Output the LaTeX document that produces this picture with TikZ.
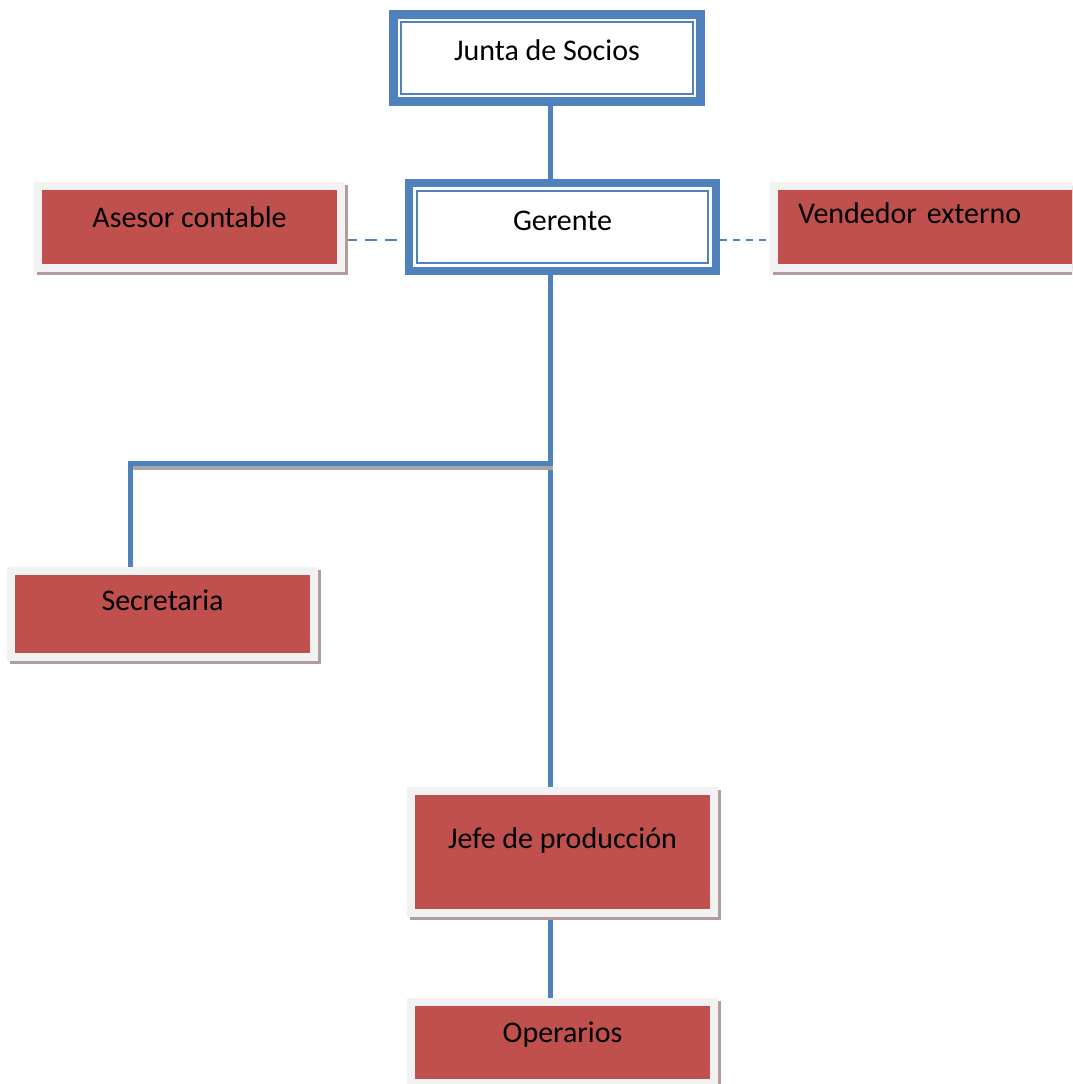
\documentclass[tikz,border=0pt]{standalone}
\usepackage{fontspec}
\setmainfont{Carlito}
\pgfdeclarelayer{background}
\pgfsetlayers{background,main}
\definecolor{cblue}{HTML}{4F81BD}
\definecolor{cred}{HTML}{C0504D}
\definecolor{cgray}{HTML}{F2F2F2}
\definecolor{cshadow}{HTML}{B39C9C}
\definecolor{cline}{HTML}{A6A6A6}
\tikzset{
  bluebox/.style={draw=cblue, line width=8pt, fill=white, inner sep=0pt, minimum width=307pt,
    font=\fontsize{30}{36}\selectfont},
  redbox/.style={draw=cgray, line width=8pt, fill=cred, inner sep=0pt, minimum width=303pt,
    font=\fontsize{30}{36}\selectfont,
    preaction={draw=cshadow, fill=cshadow, line width=8pt, transform canvas={xshift=3pt,yshift=-3pt}}},
  conn/.style={draw=cblue, line width=5pt},
  dashconn/.style={draw=cblue, line width=1.5pt, dash pattern=on 12pt off 8pt},
  dashconnb/.style={draw=cblue, line width=1.5pt, dash pattern=on 7pt off 6pt},
  innerline/.style={draw=cblue, line width=2pt}
}
\begin{document}
\begin{tikzpicture}[x=1pt,y=-1pt]
\useasboundingbox (0,0) rectangle (1072,1084);
\clip (0,0) rectangle (1072,1084);
% nodes
\node[bluebox, line width=9pt, text height=45.5pt, text depth=41.5pt] (junta) at (547,58) {Junta de Socios};
\draw[innerline] ([xshift=12pt,yshift=-12pt]junta.north west) rectangle ([xshift=-12pt,yshift=12pt]junta.south east);
\node[bluebox, text height=47pt, text depth=41pt] (ger) at (562.5,227) {Gerente};
\draw[innerline] ([xshift=12pt,yshift=-12pt]ger.north west) rectangle ([xshift=-12pt,yshift=12pt]ger.south east);
\node[redbox, text height=41pt, text depth=41pt] (ases) at (189.5,227) {Asesor contable};
\node[redbox, align=left, text width=259pt, inner xsep=24pt, text height=37pt, text depth=45pt] (vend) at (927.5,227) {Vendedor externo};
\node[redbox, text height=39pt, text depth=47pt] (sec) at (162.5,614) {Secretaria};
\node[redbox, text height=57pt, text depth=65pt] (jefe) at (562.5,852) {Jefe de producción};
\node[redbox, text height=40pt, text depth=41pt] (oper) at (562.5,1042.5) {Operarios};
% coordinates
\coordinate (sp) at (550.5,0);
\coordinate (dl) at (0,240);
\coordinate (br) at (550.5,463);
\coordinate (sl) at (130.5,463);
% connectors
\begin{pgfonlayer}{background}
\draw[conn] (junta.south -| sp) -- (ger.north -| sp);
\draw[conn] (ger.south -| sp) -- (jefe.north -| sp);
\draw[conn] (jefe.south -| sp) -- (oper.north -| sp);
\draw[draw=cline, line width=4pt] ([yshift=-4.5pt]sl) -- ([yshift=-4.5pt,xshift=2pt]br);
\draw[conn] (br) -- (sl) -- (sl |- sec.north);
\draw[dashconn] (ases.east |- dl) -- (ger.west |- dl);
\draw[dashconnb] (ger.east |- dl) -- (vend.west |- dl);
\end{pgfonlayer}
\end{tikzpicture}
\end{document}
